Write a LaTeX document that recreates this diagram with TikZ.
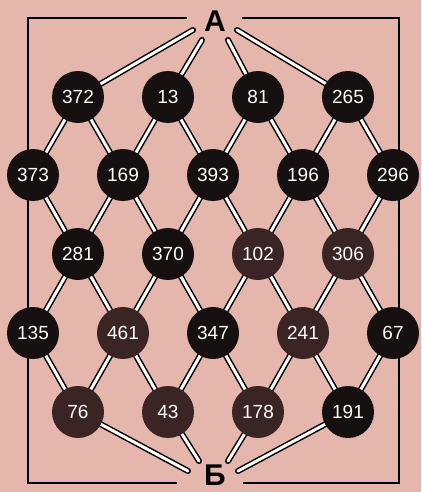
\documentclass[tikz,border=0pt]{standalone}
\usepackage{fontspec}
\setmainfont{Liberation Sans}
\usetikzlibrary{positioning}
\definecolor{PaperPink}{RGB}{229,182,171}
\definecolor{CellBlack}{RGB}{22,16,16}
\definecolor{CellBrown}{RGB}{58,36,36}
\pgfdeclarelayer{bg}
\pgfsetlayers{bg,main}

\begin{document}
\begin{tikzpicture}[
    x=1pt, y=-1pt,
    cell/.style={circle, fill=CellBlack, text=white, minimum size=52pt, inner sep=0pt, font=\fontsize{19}{19}\selectfont},
    cellb/.style={cell, fill=CellBrown},
    link/.style={draw=black, line width=1.5pt, double=white, double distance=3pt, line cap=round, line join=round},
    frame/.style={draw=black, line width=2.2pt},
    letter/.style={font=\fontsize{30}{30}\selectfont\bfseries, anchor=base, inner sep=0pt},
    on grid
]
\useasboundingbox (0,0) rectangle (421,492);
\node[letter] (A) at (215,32) {А};
\node[letter] (B) at (215,485) {Б};

% row 1
\node[cell] (n372) at (78,97) {372};
\node[cell, right=90pt of n372] (n13) {13};
\node[cell, right=90pt of n13] (n81) {81};
\node[cell, right=90pt of n81] (n265) {265};
% row 2
\node[cell, below left=78pt and 45pt of n372] (n373) {373};
\node[cell, right=90pt of n373] (n169) {169};
\node[cell, right=90pt of n169] (n393) {393};
\node[cell, right=90pt of n393] (n196) {196};
\node[cell, right=90pt of n196] (n296) {296};
% row 3
\node[cell, below right=79pt and 45pt of n373] (n281) {281};
\node[cell, right=90pt of n281] (n370) {370};
\node[cellb, right=90pt of n370] (n102) {102};
\node[cellb, right=90pt of n102] (n306) {306};
% row 4
\node[cell, below left=79pt and 45pt of n281] (n135) {135};
\node[cellb, right=90pt of n135] (n461) {461};
\node[cell, right=90pt of n461] (n347) {347};
\node[cellb, right=90pt of n347] (n241) {241};
\node[cell, right=90pt of n241] (n67) {67};
% row 5
\node[cellb, below right=79pt and 45pt of n135] (n76) {76};
\node[cellb, right=90pt of n76] (n43) {43};
\node[cellb, right=90pt of n43] (n178) {178};
\node[cell, right=90pt of n178] (n191) {191};

% free ends near the letters
\coordinate (a372) at (193,30);
\coordinate (a13) at (202,40);
\coordinate (a81) at (228,40);
\coordinate (a265) at (237,30);
\coordinate (b76) at (188,471);
\coordinate (b43) at (199,461);
\coordinate (b178) at (228,461);
\coordinate (b191) at (238,471);

\begin{pgfonlayer}{bg}
\fill[PaperPink] (0,0) rectangle (421,492);
\draw[frame] (187,18) -| (28,483) -- (177,483);
\draw[frame] (242,18) -| (399,483) -- (243,483);

\draw[link] (a372) -- (n372.center);
\draw[link] (a13) -- (n13.center);
\draw[link] (a81) -- (n81.center);
\draw[link] (a265) -- (n265.center);

\draw[link] (n373.center) -- (n372.center) -- (n169.center) -- (n13.center) -- (n393.center) -- (n81.center) -- (n196.center) -- (n265.center) -- (n296.center);
\draw[link] (n373.center) -- (n281.center) -- (n169.center) -- (n370.center) -- (n393.center) -- (n102.center) -- (n196.center) -- (n306.center) -- (n296.center);
\draw[link] (n135.center) -- (n281.center) -- (n461.center) -- (n370.center) -- (n347.center) -- (n102.center) -- (n241.center) -- (n306.center) -- (n67.center);
\draw[link] (n135.center) -- (n76.center) -- (n461.center) -- (n43.center) -- (n347.center) -- (n178.center) -- (n241.center) -- (n191.center) -- (n67.center);

\draw[link] (b76) -- (n76.center);
\draw[link] (b43) -- (n43.center);
\draw[link] (b178) -- (n178.center);
\draw[link] (b191) -- (n191.center);
\end{pgfonlayer}
\end{tikzpicture}
\end{document}
